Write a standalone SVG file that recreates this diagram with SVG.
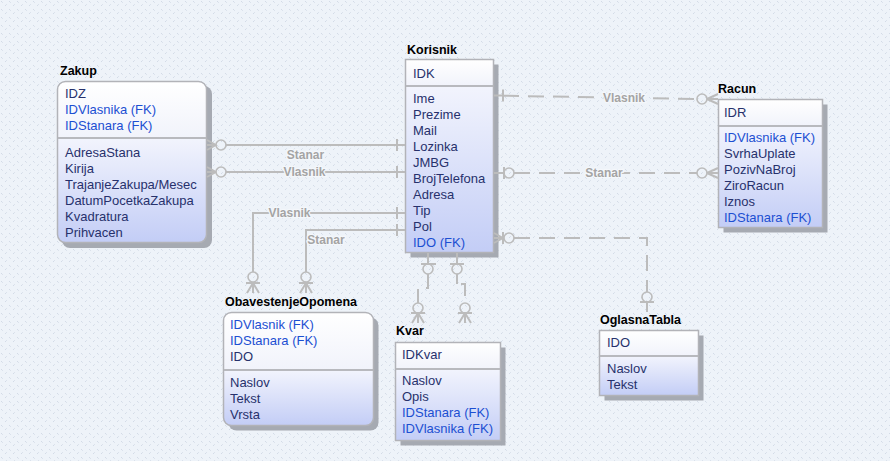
<svg xmlns="http://www.w3.org/2000/svg" width="890" height="461" viewBox="0 0 890 461">
<defs>
<pattern id="bgp" width="8" height="8" patternUnits="userSpaceOnUse">
<rect width="8" height="8" fill="#eef3f9"/>
<rect x="1" y="1" width="1" height="1" fill="#d3dbe7"/>
<rect x="2" y="2" width="1" height="1" fill="#dbe2ec"/>
<rect x="5" y="5" width="1" height="1" fill="#d3dbe7"/>
<rect x="6" y="4" width="1" height="1" fill="#dbe2ec"/>
</pattern>
<linearGradient id="gh" x1="0" y1="0" x2="0" y2="1">
<stop offset="0" stop-color="#ffffff"/>
<stop offset="1" stop-color="#f1f3fb"/>
</linearGradient>
<linearGradient id="gb" x1="0" y1="0" x2="0" y2="1">
<stop offset="0" stop-color="#f2f4fd"/>
<stop offset="1" stop-color="#c3cdf6"/>
</linearGradient>
<style>
.sh{fill:#a6aab2}
.hd{fill:url(#gh)}
.bd{fill:url(#gb)}
.fr{fill:none;stroke:#b2b3b8;stroke-width:1.5}
.dv{stroke:#b8b9be;stroke-width:2}
.t{font-family:"Liberation Sans",Arial,sans-serif;font-size:13px;fill:#27316c}
.fk{fill:#1c4fd2}
.ti{font-family:"Liberation Sans",Arial,sans-serif;font-size:12.5px;font-weight:bold;fill:#000}
.ln{fill:none;stroke:#bcbcbc;stroke-width:2}
.da{stroke-dasharray:16 9}
.ci{fill:none;stroke:#bcbcbc;stroke-width:1.6}
.lb{font-family:"Liberation Sans",Arial,sans-serif;font-size:12px;font-weight:bold;fill:#a4a4a4;stroke:#f4f7fb;stroke-width:2.5;paint-order:stroke;text-anchor:middle}
</style>
</defs>
<rect width="890" height="461" fill="url(#bgp)"/>

<g id="zakup">
<text class="ti" x="60" y="75">Zakup</text>
<rect class="sh" x="62" y="86" width="150" height="162" rx="8"/>
<path class="hd" d="M57.5,138 V89.5 a8,8 0 0 1 8,-8 H198.5 a8,8 0 0 1 8,8 V138 Z"/>
<path class="bd" d="M57.5,138 V234.5 a8,8 0 0 0 8,8 H198.5 a8,8 0 0 0 8,-8 V138 Z"/>
<rect class="fr" x="57.5" y="81.5" width="149" height="161" rx="8"/>
<line class="dv" x1="58" y1="138" x2="206" y2="138"/>
<text class="t" x="65" y="98">IDZ</text>
<text class="t fk" x="65" y="114">IDVlasnika (FK)</text>
<text class="t fk" x="65" y="130">IDStanara (FK)</text>
<text class="t" x="65" y="157">AdresaStana</text>
<text class="t" x="65" y="173">Kirija</text>
<text class="t" x="65" y="189">TrajanjeZakupa/Mesec</text>
<text class="t" x="65" y="205">DatumPocetkaZakupa</text>
<text class="t" x="65" y="221">Kvadratura</text>
<text class="t" x="65" y="237">Prihvacen</text>
</g>

<g id="korisnik">
<text class="ti" x="407" y="54">Korisnik</text>
<rect class="sh" x="410.5" y="64.5" width="88" height="193"/>
<rect class="hd" x="405.5" y="59.5" width="88" height="26.5"/>
<rect class="bd" x="405.5" y="86" width="88" height="166.5"/>
<rect class="fr" x="405.5" y="59.5" width="88" height="193"/>
<line class="dv" x1="406" y1="86" x2="493" y2="86"/>
<text class="t" x="413" y="78">IDK</text>
<text class="t" x="413" y="103">Ime</text>
<text class="t" x="413" y="119">Prezime</text>
<text class="t" x="413" y="135">Mail</text>
<text class="t" x="413" y="151">Lozinka</text>
<text class="t" x="413" y="167">JMBG</text>
<text class="t" x="413" y="183">BrojTelefona</text>
<text class="t" x="413" y="199">Adresa</text>
<text class="t" x="413" y="215">Tip</text>
<text class="t" x="413" y="231">Pol</text>
<text class="t fk" x="413" y="247">IDO (FK)</text>
</g>

<g id="racun">
<text class="ti" x="718" y="93">Racun</text>
<rect class="sh" x="723.5" y="104.5" width="104" height="128"/>
<rect class="hd" x="718.5" y="99.5" width="104" height="26.5"/>
<rect class="bd" x="718.5" y="126" width="104" height="101.5"/>
<rect class="fr" x="718.5" y="99.5" width="104" height="128"/>
<line class="dv" x1="719" y1="126" x2="822" y2="126"/>
<text class="t" x="724" y="117">IDR</text>
<text class="t fk" x="724" y="142">IDVlasnika (FK)</text>
<text class="t" x="724" y="158">SvrhaUplate</text>
<text class="t" x="724" y="174">PozivNaBroj</text>
<text class="t" x="724" y="190">ZiroRacun</text>
<text class="t" x="724" y="206">Iznos</text>
<text class="t fk" x="724" y="222">IDStanara (FK)</text>
</g>

<g id="obavestenjeopomena">
<text class="ti" x="225" y="306">ObavestenjeOpomena</text>
<rect class="sh" x="228.5" y="317.5" width="150" height="113" rx="8"/>
<path class="hd" d="M223.5,370 V320.5 a8,8 0 0 1 8,-8 H365.5 a8,8 0 0 1 8,8 V370 Z"/>
<path class="bd" d="M223.5,370 V417.5 a8,8 0 0 0 8,8 H365.5 a8,8 0 0 0 8,-8 V370 Z"/>
<rect class="fr" x="223.5" y="312.5" width="150" height="113" rx="8"/>
<line class="dv" x1="224" y1="370" x2="373" y2="370"/>
<text class="t fk" x="230" y="329">IDVlasnik (FK)</text>
<text class="t fk" x="230" y="345">IDStanara (FK)</text>
<text class="t" x="230" y="361">IDO</text>
<text class="t" x="230" y="387">Naslov</text>
<text class="t" x="230" y="403">Tekst</text>
<text class="t" x="230" y="419">Vrsta</text>
</g>

<g id="kvar">
<text class="ti" x="396" y="335">Kvar</text>
<rect class="sh" x="400.5" y="347.5" width="105" height="98"/>
<rect class="hd" x="395.5" y="342.5" width="105" height="26.5"/>
<rect class="bd" x="395.5" y="369" width="105" height="71.5"/>
<rect class="fr" x="395.5" y="342.5" width="105" height="98"/>
<line class="dv" x1="396" y1="369" x2="500" y2="369"/>
<text class="t" x="402" y="359">IDKvar</text>
<text class="t" x="402" y="385">Naslov</text>
<text class="t" x="402" y="401">Opis</text>
<text class="t fk" x="402" y="417">IDStanara (FK)</text>
<text class="t fk" x="402" y="433">IDVlasnika (FK)</text>
</g>

<g id="oglasnatabla">
<text class="ti" x="600" y="324">OglasnaTabla</text>
<rect class="sh" x="604.5" y="335.5" width="99" height="65"/>
<rect class="hd" x="599.5" y="330.5" width="99" height="25.5"/>
<rect class="bd" x="599.5" y="356" width="99" height="39.5"/>
<rect class="fr" x="599.5" y="330.5" width="99" height="65"/>
<line class="dv" x1="600" y1="356" x2="698" y2="356"/>
<text class="t" x="607" y="347">IDO</text>
<text class="t" x="607" y="373">Naslov</text>
<text class="t" x="607" y="389">Tekst</text>
</g>

<g id="connectors">
<!-- Zakup - Korisnik Stanar -->
<path class="ln" d="M207,140 L216,145 M207,150 L216,145 M207,145 H216 M226,145 H405 M397,139 V151"/>
<circle class="ci" cx="221" cy="145" r="5"/>
<!-- Zakup - Korisnik Vlasnik -->
<path class="ln" d="M207,167 L216,172 M207,177 L216,172 M207,172 H216 M226,172 H405 M397,166 V178"/>
<circle class="ci" cx="221" cy="172" r="5"/>
<!-- Korisnik - Obavestenje Vlasnik -->
<path class="ln" d="M405,213 H253 V272 M397,207 V219 M246,283 H260 M253,283 L247,293 M253,283 V293 M253,283 L259,293"/>
<circle class="ci" cx="253" cy="277" r="5"/>
<!-- Korisnik - Obavestenje Stanar -->
<path class="ln" d="M405,230 H306 V272 M397,224 V236 M299,283 H313 M306,283 L300,293 M306,283 V293 M306,283 L312,293"/>
<circle class="ci" cx="306" cy="277" r="5"/>
<!-- Korisnik - Kvar 1 -->
<path class="ln" d="M428,253 V264 M421,264 H436 M411,313 H425 M418,313 L412,323 M418,313 V323 M418,313 L424,323"/>
<path class="ln da" d="M428,274 V288 H418 V303"/>
<circle class="ci" cx="428" cy="269" r="5"/>
<circle class="ci" cx="418" cy="308" r="5"/>
<!-- Korisnik - Kvar 2 -->
<path class="ln" d="M457,253 V264 M450,264 H464 M458,313 H472 M465,313 L459,323 M465,313 V323 M465,313 L471,323"/>
<path class="ln da" d="M457,274 V284 H465 V303" style="stroke-dasharray:10 4 16 9"/>
<circle class="ci" cx="457" cy="269" r="5"/>
<circle class="ci" cx="465" cy="308" r="5"/>
<!-- Korisnik - Racun Vlasnik -->
<path class="ln" d="M494,95.5 H503 M503,89.5 V101.5 M707,99 L718,94 M707,99 H718 M707,99 L718,104"/>
<path class="ln da" d="M503,95.7 L697,99"/>
<circle class="ci" cx="702" cy="99" r="5"/>
<!-- Korisnik - Racun Stanar -->
<path class="ln" d="M494,173 H504 M504,167 V179 M707,173 L718,168 M707,173 H718 M707,173 L718,178"/>
<path class="ln da" d="M514,173 H697"/>
<circle class="ci" cx="509" cy="173" r="5"/>
<circle class="ci" cx="702" cy="173" r="5"/>
<!-- Korisnik - OglasnaTabla -->
<path class="ln" d="M494,233 L503,238 M494,243 L503,238 M494,238 H503 M503,232 V244 M640,302 H654 M647,302 V312"/>
<path class="ln da" d="M514,238 H647 V292"/>
<circle class="ci" cx="509" cy="238" r="5"/>
<circle class="ci" cx="647" cy="297" r="5"/>
<!-- labels -->
<text class="lb" x="305.5" y="159">Stanar</text>
<text class="lb" x="304.5" y="176">Vlasnik</text>
<text class="lb" x="289.5" y="217">Vlasnik</text>
<text class="lb" x="326" y="244">Stanar</text>
<text class="lb" x="624" y="101.5">Vlasnik</text>
<text class="lb" x="604" y="177">Stanar</text>
</g>
</svg>
